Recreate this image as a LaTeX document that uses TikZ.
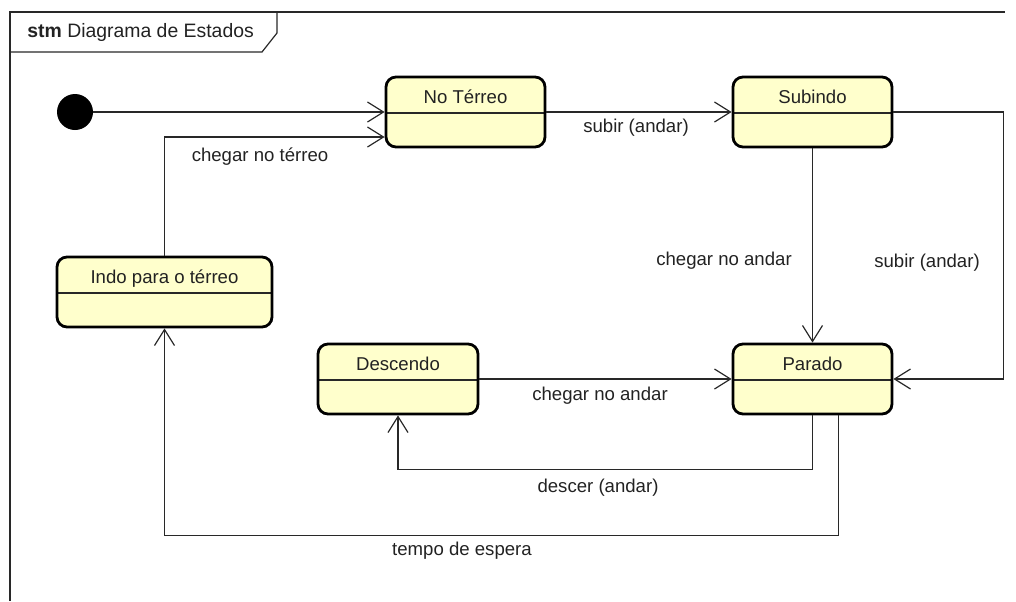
\documentclass[tikz,border=0pt]{standalone}
\usepackage{fontspec}
\setmainfont{Liberation Sans}
\usetikzlibrary{arrows.meta}
\definecolor{stfill}{RGB}{255,255,204}
\definecolor{ink}{RGB}{34,34,34}
\definecolor{wire}{RGB}{40,40,40}
\begin{document}
\begin{tikzpicture}[x=0.5pt,y=-0.5pt,
  font=\fontsize{9.3pt}{11pt}\selectfont,
  stbox/.style={draw=black, line width=1.4pt, rounded corners=5pt, fill=stfill,
    minimum height=35pt, inner xsep=0pt, inner ysep=0pt, text=ink,
    text height=13.3pt, text depth=21.7pt,
    path picture={\draw[line width=0.55pt, wire]
      ([yshift=-18pt]path picture bounding box.north west) --
      ([yshift=-18pt]path picture bounding box.north east);}},
  tr/.style={draw=wire, line width=0.6pt, -{Straight Barb[length=8pt,width=10pt,line width=0.6pt]}},
  lbl/.style={text=ink, inner sep=1pt},
  framel/.style={draw=wire, line width=0.6pt}
]
\useasboundingbox (0,0) rectangle (1016,601);
% frame
\draw[framel] (10,601) -- (10,12) -- (1005,12);
\draw[framel] (10,52) -- (262,52) -- (277,33) -- (277,12);
\node[lbl, anchor=west, font=\fontsize{9.7pt}{11pt}\selectfont] (title) at (25,32) {\textbf{stm} Diagrama de Estados};
% states
\node[circle, fill=black, minimum size=18pt, inner sep=0pt] (init) at (75,112) {};
\node[stbox, minimum width=79.5pt] (nt) at (465.5,112) {No Térreo};
\node[stbox, minimum width=79.5pt] (sub) at (812.5,112) {Subindo};
\node[stbox, minimum width=107.5pt] (indo) at (164.5,292) {Indo para o térreo\hspace{4pt}};
\node[stbox, minimum width=80pt] (des) at (398,379) {Descendo};
\node[stbox, minimum width=79.5pt] (par) at (812.5,379) {Parado};
% transitions
\draw[tr] (init.east) -- (nt.west);
\draw[tr] (indo.north) |- ([yshift=-12.5pt]nt.west);
\draw[tr] (nt.east) -- (sub.west);
\draw[tr] (sub.south) -- (par.north);
\draw[tr] (sub.east) -- ++(110,0) |- (par.east);
\draw[tr] (des.east) -- (par.west);
\draw[tr] (par.south) -- ++(0,54) -| (des.south);
\draw[tr] ([xshift=13pt]par.south) -- ++(0,120) -| (indo.south);
% labels
\node[lbl] (l1) at (260,157) {chegar no térreo};
\node[lbl] (l2) at (636,128) {subir (andar)};
\node[lbl] (l3) at (724,261) {chegar no andar};
\node[lbl] (l4) at (927,263) {subir (andar)};
\node[lbl] (l5) at (600,396) {chegar no andar};
\node[lbl] (l6) at (598,488) {descer (andar)};
\node[lbl] (l7) at (462,551) {tempo de espera};
\end{tikzpicture}
\end{document}
